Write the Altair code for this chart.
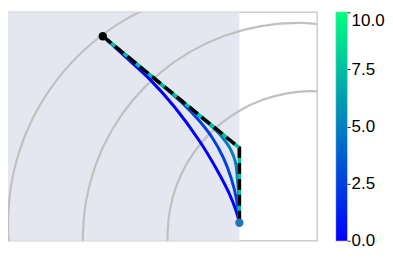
import altair as alt
import pandas as pd

# ---- data ----
x_domain = [0, 314]
y_domain = [0, 229]
shade_x = [0, 236]
shade_y = [0, 229]

arc_outer_x = [4.9, 4, 7.6, 18.3, 35.8, 59.5, 88.7, 122.5, 159.9]
arc_outer_y = [-3.7, 17, 58.2, 98.1, 135.5, 169.3, 198.5, 222.2, 239.7]
arc_mid_x = [79.8, 79, 82.3, 92, 107.9, 129.5, 156.2, 187, 221.1, 257.5, 295, 332.5]
arc_mid_y = [-16.3, 2.5, 40, 76.4, 110.5, 141.3, 168, 189.6, 205.5, 215.2, 218.5, 215.2]
arc_in_x = [164.6, 164, 166.2, 172.7, 183.4, 197.9, 215.8, 236.5, 259.4, 283.8, 309, 334.2]
arc_in_y = [-7.6, 5, 30.2, 54.6, 77.5, 98.2, 116.1, 130.6, 141.3, 147.8, 150, 147.8]

curve_k = [0, 2.5, 5]
curve_x = [
    [99, 121, 146, 171, 196, 213, 226, 233, 236],
    [99, 126, 156, 181, 196, 209, 220, 228, 233, 236],
    [99, 156, 196, 211, 221, 227, 232, 234, 235.5, 236],
]
curve_y = [
    [205, 185, 162, 134, 100, 72, 47, 29, 18],
    [205, 183, 158, 136, 120, 103, 83, 62, 42, 18],
    [205, 158, 125, 112, 101, 92, 79, 62, 40, 18],
]
limit_k = 7.5
path_x = [99, 236, 236]
path_y = [205, 93, 18]
start_pt = (99, 205)
end_pt = (236, 18)
cbar_domain = [0, 10]
cbar_ticks = [0, 2.5, 5, 7.5, 10]
cmap = ["#0000ff", "#00ff80"]

# ---- tables ----
arcs = []
for name, xs, ys in [("outer", arc_outer_x, arc_outer_y), ("mid", arc_mid_x, arc_mid_y), ("in", arc_in_x, arc_in_y)]:
    for i, (a, b) in enumerate(zip(xs, ys)):
        arcs.append({"arc": name, "i": i, "x": a, "y": b})
arcs = pd.DataFrame(arcs)

curves = []
for k, xs, ys in zip(curve_k, curve_x, curve_y):
    for i, (a, b) in enumerate(zip(xs, ys)):
        curves.append({"k": k, "i": i, "x": a, "y": b})
curves = pd.DataFrame(curves)

path = pd.DataFrame({"i": range(len(path_x)), "x": path_x, "y": path_y, "k": limit_k})
shade = pd.DataFrame({"x": [shade_x[0]], "x2": [shade_x[1]], "y": [shade_y[0]], "y2": [shade_y[1]]})
pts = pd.DataFrame({"x": [start_pt[0], end_pt[0]], "y": [start_pt[1], end_pt[1]], "c": ["#000000", "#1f77b4"]})
cbar = pd.DataFrame({"lo": [cbar_domain[0]], "hi": [cbar_domain[1]]})

xs = alt.Scale(domain=x_domain, nice=False, zero=False)
ys = alt.Scale(domain=y_domain, nice=False, zero=False)
X = alt.X("x:Q", scale=xs, axis=None)
Y = alt.Y("y:Q", scale=ys, axis=None)
cscale = alt.Scale(domain=cbar_domain, range=cmap, interpolate="rgb")

rect = alt.Chart(shade).mark_rect(color="#E4E7EF").encode(x=X, x2="x2:Q", y=Y, y2="y2:Q")

arc_layer = alt.Chart(arcs).mark_line(color="#c0c0c0", strokeWidth=2.2, interpolate="catmull-rom", clip=True).encode(
    x=X, y=Y, detail="arc:N", order="i:Q")

curve_layer = alt.Chart(curves).mark_line(strokeWidth=3, interpolate="catmull-rom").encode(
    x=X, y=Y, color=alt.Color("k:Q", scale=cscale, legend=None), detail="k:N", order="i:Q")

limit_layer = alt.Chart(path).mark_line(strokeWidth=3.5).encode(
    x=X, y=Y, color=alt.Color("k:Q", scale=cscale, legend=None), order="i:Q")

dash_layer = alt.Chart(path).mark_line(color="black", strokeWidth=3.5, strokeDash=[11, 5]).encode(
    x=X, y=Y, order="i:Q")

pt_layer = alt.Chart(pts).mark_point(filled=True, size=70, opacity=1).encode(
    x=X, y=Y, color=alt.Color("c:N", scale=None))

main = alt.layer(rect, arc_layer, curve_layer, limit_layer, dash_layer, pt_layer).properties(width=314, height=229)

# ---- colorbar ----
grad = alt.Gradient(
    gradient="linear",
    stops=[alt.GradientStop(color=cmap[0], offset=0), alt.GradientStop(color=cmap[1], offset=1)],
    x1=0, x2=0, y1=1, y2=0,
)
colorbar = alt.Chart(cbar).mark_rect(color=grad).encode(
    y=alt.Y("lo:Q", scale=alt.Scale(domain=cbar_domain, nice=False, zero=False),
            axis=alt.Axis(orient="right", values=cbar_ticks, format=".1f",
                          tickSize=3, tickColor="#222222", tickWidth=1, domain=False, grid=False,
                          labelFont="Liberation Sans", labelFontSize=17, labelColor="black",
                          labelPadding=1, title=None,
                          labelBaseline={"condition": {"test": "datum.value >= 10", "value": "top"},
                                         "value": "middle"})),
    y2="hi:Q",
).properties(width=11, height=229)

chart = alt.hconcat(main, colorbar, spacing=17).properties(
    padding={"left": -5, "top": 2, "right": 0, "bottom": 0},
).configure_view(stroke="#cccccc", strokeWidth=1.5, fill="white")

chart.save("out.html", embed_options={"renderer": "svg", "actions": False})
